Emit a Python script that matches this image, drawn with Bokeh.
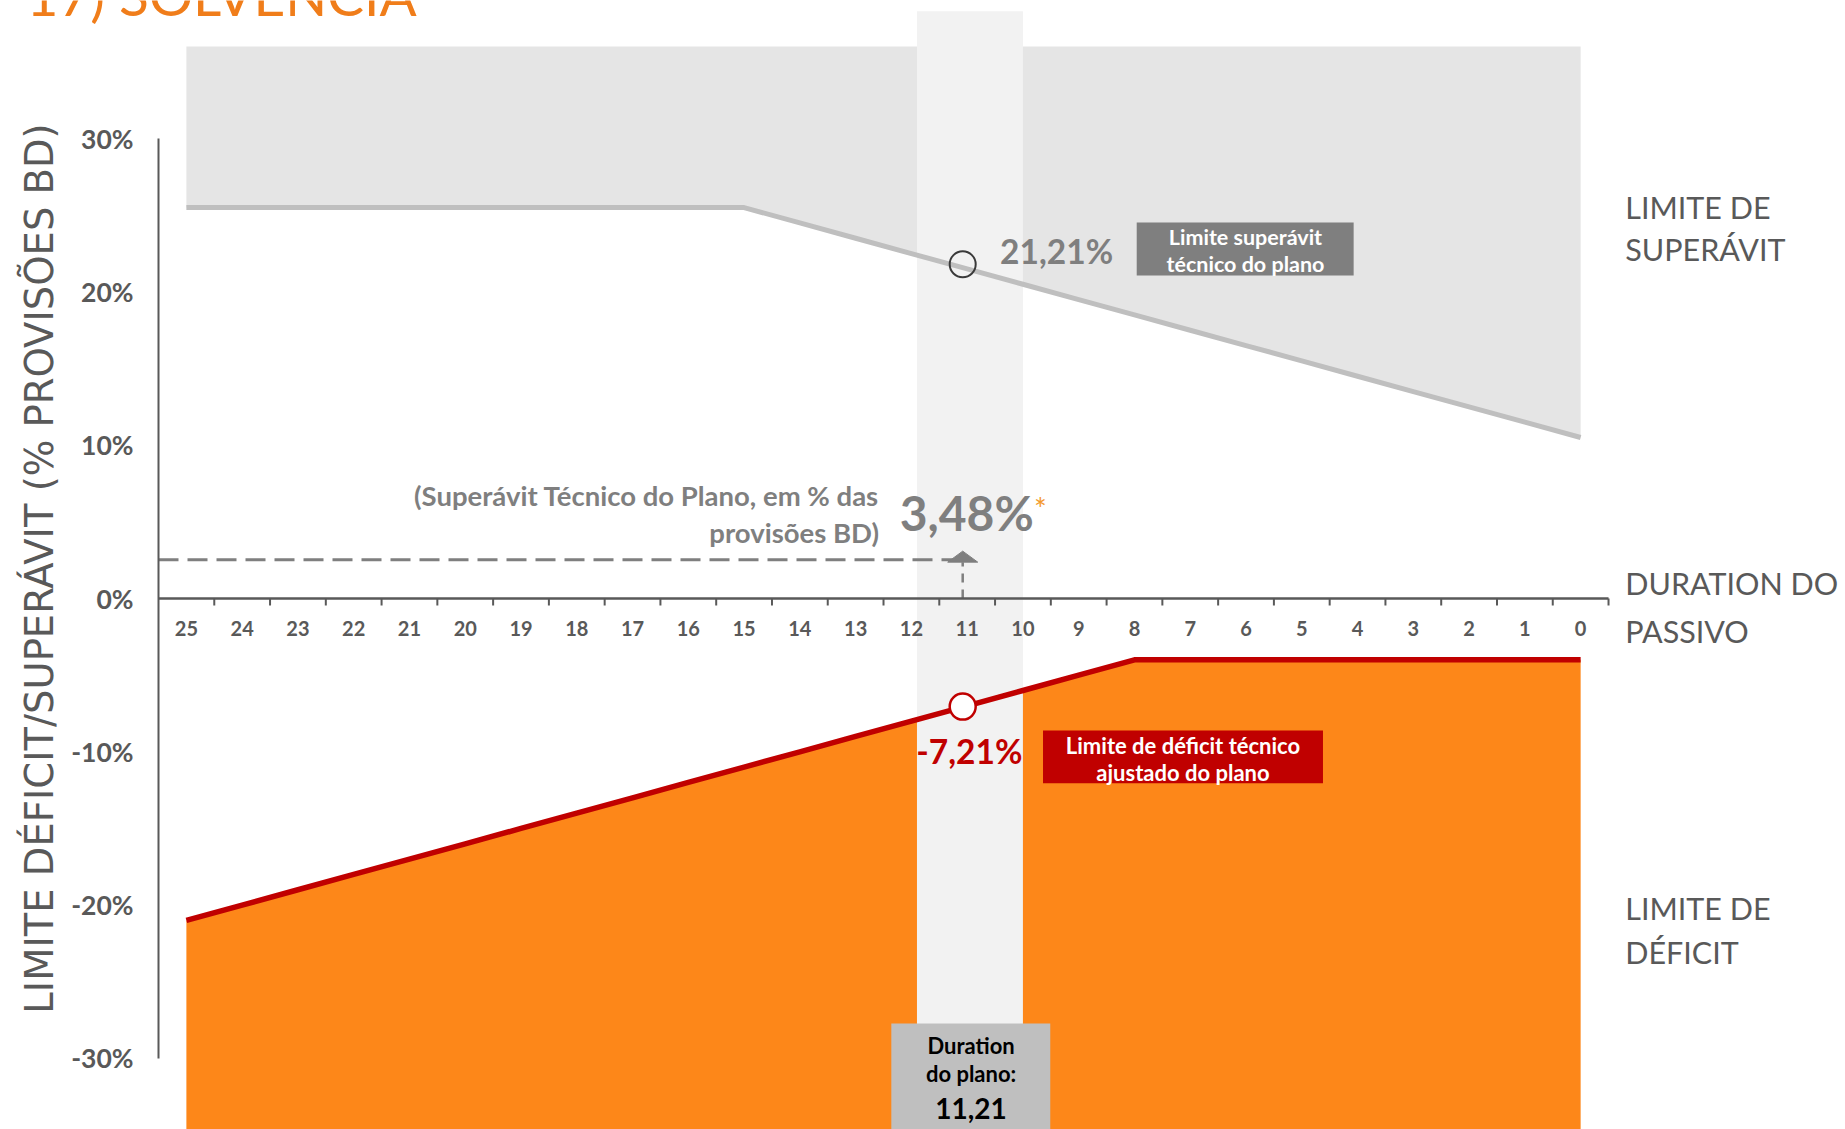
import math
from bokeh.plotting import figure
from bokeh.models import Range1d
from bokeh.core.properties import value
from bokeh.embed import file_html
from bokeh.resources import INLINE

# ---------------- data ----------------
duration = [25, 24, 23, 22, 21, 20, 19, 18, 17, 16, 15, 14, 13,
            12, 11, 10, 9, 8, 7, 6, 5, 4, 3, 2, 1, 0]
tick_labels = ["25", "24", "23", "22", "21", "20", "19", "18", "17", "16", "15", "14", "13",
               "12", "11", "10", "9", "8", "7", "6", "5", "4", "3", "2", "1", "0"]
limite_superavit = [25.5, 25.5, 25.5, 25.5, 25.5, 25.5, 25.5, 25.5, 25.5, 25.5, 25.5,
                    24.5, 23.5, 22.5, 21.5, 20.5, 19.5, 18.5, 17.5, 16.5, 15.5,
                    14.5, 13.5, 12.5, 11.5, 10.5]
limite_deficit = [-21, -20, -19, -18, -17, -16, -15, -14, -13, -12, -11, -10, -9,
                  -8, -7, -6, -5, -4, -4, -4, -4, -4, -4, -4, -4, -4]
y_ticks = [-30, -20, -10, 0, 10, 20, 30]
y_tick_labels = ["-30%", "-20%", "-10%", "0%", "10%", "20%", "30%"]

duration_plano = 11.08          # position of the plan's duration on the axis
superavit_plano_lim = 21.8      # marker on the surplus limit
deficit_plano_lim = -7.05       # marker on the deficit limit
superavit_tecnico = 2.52        # dashed level of the plan's technical surplus
superavit_tecnico_tip = 3.09
area_top = 36.0
band_left, band_right, band_top = 11.9, 10.0, 38.3

# ---------------- colours / fonts ----------------
GRAY_AREA = "#E5E5E5"
GRAY_LINE = "#BFBFBF"
BAND = "#F2F2F2"
ORANGE = "#FD8719"
RED = "#C00000"
DARK = "#595959"
MID = "#7F7F7F"
FONT = "Lato"

# ---------------- figure geometry ----------------
W, H = 1845, 1129
AXIS_PX = 158          # pixel position of the vertical axis
ZERO_PX = 598          # pixel position of the 0% line
PX_X = 55.77           # pixels per duration unit
PX_Y = 15.33           # pixels per percent
x0_axis = max(duration) + 0.5
x_start = x0_axis + AXIS_PX / PX_X
x_end = x0_axis - (W - AXIS_PX) / PX_X
y_top = ZERO_PX / PX_Y
y_bot = -(H - ZERO_PX) / PX_Y

p = figure(width=W, height=H, output_backend="svg", toolbar_location=None,
           x_range=Range1d(x_start, x_end), y_range=Range1d(y_bot, y_top),
           x_axis_type=None, y_axis_type=None,
           min_border_left=0, min_border_right=0, min_border_top=0, min_border_bottom=0)
p.outline_line_color = None
p.grid.visible = False
p.background_fill_color = "white"
p.border_fill_color = "white"

# areas
p.varea(x=duration, y1=limite_superavit, y2=[area_top] * len(duration), fill_color=GRAY_AREA)
p.varea(x=duration, y1=[y_bot - 5] * len(duration), y2=limite_deficit, fill_color=ORANGE)

# highlighted duration band
p.quad(left=[band_left], right=[band_right], top=[band_top], bottom=[y_bot - 5],
       fill_color=BAND, line_color=None)

# limit lines
p.line(x=duration, y=limite_superavit, line_color=GRAY_LINE, line_width=5)
p.line(x=duration, y=limite_deficit, line_color=RED, line_width=5.5)

# dashed surplus level + arrow (dashed stem and flat arrow head)
head_half_w = 15 / PX_X
head_h = 11 / PX_Y
p.segment(x0=[x0_axis], y0=[superavit_tecnico], x1=[duration_plano], y1=[superavit_tecnico],
          line_color=MID, line_width=3, line_dash="20 9")
p.segment(x0=[duration_plano], y0=[0], x1=[duration_plano], y1=[superavit_tecnico_tip - head_h],
          line_color=MID, line_width=2.5, line_dash="9 7")
p.patch(x=[duration_plano - head_half_w, duration_plano, duration_plano + head_half_w],
        y=[superavit_tecnico_tip - head_h, superavit_tecnico_tip, superavit_tecnico_tip - head_h],
        fill_color=MID, line_color=MID, line_width=1)

# y axis (line, labels, title)
p.segment(x0=[x0_axis], y0=[min(y_ticks)], x1=[x0_axis], y1=[max(y_ticks)],
          line_color=DARK, line_width=2)
p.text(x=[x0_axis + 25 / PX_X] * len(y_ticks), y=y_ticks, text=y_tick_labels,
       text_font=value(FONT), text_font_style="bold", text_font_size="26.5px",
       text_color=DARK, text_align="right", text_baseline="middle")
p.text(x=[x0_axis + (AXIS_PX - 39) / PX_X], y=[(ZERO_PX - 568) / PX_Y],
       text=["LIMITE DÉFICIT/SUPERÁVIT (% PROVISÕES BD)"], angle=[math.pi / 2],
       text_font=value("DejaVu Sans"), text_font_size="38.5px", text_color=DARK,
       text_align="center", text_baseline="middle")

# x axis (category style: ticks between labels)
p.segment(x0=[x0_axis], y0=[0], x1=[min(duration) - 0.5], y1=[0],
          line_color=DARK, line_width=2.5)
tick_len = 7 / PX_Y
bounds_x = [d - 0.5 for d in duration]
p.segment(x0=bounds_x, y0=[0] * len(bounds_x), x1=bounds_x, y1=[-tick_len] * len(bounds_x),
          line_color=DARK, line_width=2)
p.text(x=duration, y=[-30 / PX_Y] * len(duration), text=tick_labels,
       text_font=value(FONT), text_font_style="bold", text_font_size="20px",
       text_color=DARK, text_align="center", text_baseline="middle")

# markers
p.scatter(x=[duration_plano], y=[superavit_plano_lim], size=26, marker="circle",
          fill_color=None, line_color="#3A3A3A", line_width=2)
p.scatter(x=[duration_plano], y=[deficit_plano_lim], size=26, marker="circle",
          fill_color="white", line_color=RED, line_width=2.5)

# surplus annotation texts
p.text(x=[12.58, 12.58], y=[6.72, 4.32],
       text=["(Superávit Técnico do Plano, em % das", "provisões BD)"],
       text_font=value(FONT), text_font_style="bold", text_font_size="27.5px",
       text_color=MID, text_align="right", text_baseline="middle")
p.text(x=[12.21], y=[5.63], text=["3,48%"], text_font=value(FONT), text_font_style="bold",
       text_font_size="48px", text_color=MID, text_align="left", text_baseline="middle")
p.text(x=[9.8], y=[5.9], text=["*"], text_font=value(FONT), text_font_style="normal",
       text_font_size="30px", text_color="#F39A2E", text_align="left", text_baseline="middle")

p.text(x=[10.41], y=[22.7], text=["21,21%"], text_font=value(FONT), text_font_style="bold",
       text_font_size="33.5px", text_color=MID, text_align="left", text_baseline="middle")
p.quad(left=[7.96], right=[4.07], top=[24.53], bottom=[21.07], fill_color=MID, line_color=None)
p.text(x=[6.01, 6.01], y=[23.6, 21.8], text=["Limite superávit", "técnico do plano"],
       text_font=value(FONT), text_font_style="bold", text_font_size="21.5px",
       text_color="white", text_align="center", text_baseline="middle")

# deficit annotation texts
p.text(x=[10.96], y=[-9.92], text=["-7,21%"], text_font=value(FONT), text_font_style="bold",
       text_font_size="33.5px", text_color=RED, text_align="center", text_baseline="middle")
p.quad(left=[9.64], right=[4.62], top=[-8.61], bottom=[-12.05], fill_color=RED, line_color=None)
p.text(x=[7.13, 7.13], y=[-9.6, -11.35],
       text=["Limite de déficit técnico", "ajustado do plano"],
       text_font=value(FONT), text_font_style="bold", text_font_size="22px",
       text_color="white", text_align="center", text_baseline="middle")

# duration box
p.quad(left=[12.36], right=[9.51], top=[-27.72], bottom=[y_bot - 5],
       fill_color="#BFBFBF", line_color=None)
p.text(x=[10.93, 10.93], y=[-29.16, -30.99], text=["Duration", "do plano:"],
       text_font=value(FONT), text_font_style="bold", text_font_size="22px",
       text_color="black", text_align="center", text_baseline="middle")
p.text(x=[10.93], y=[-33.27], text=["11,21"], text_font=value(FONT), text_font_style="bold",
       text_font_size="28px", text_color="black", text_align="center", text_baseline="middle")

# right-hand labels
p.text(x=[-0.8] * 6, y=[25.53, 22.81, 0.98, -2.09, -20.22, -23.07],
       text=["LIMITE DE", "SUPERÁVIT", "DURATION DO", "PASSIVO", "LIMITE DE", "DÉFICIT"],
       text_font=value(FONT), text_font_style="normal", text_font_size="30.5px",
       text_color=DARK, text_align="left", text_baseline="middle")

# title (cut by the top edge, as in the slide)
p.text(x=[x0_axis + (AXIS_PX - 26) / PX_X], y=[(ZERO_PX + 6) / PX_Y], text=["17) SOLVÊNCIA"],
       text_font=value(FONT), text_font_size="55px", text_color="#F07D1A",
       text_align="left", text_baseline="alphabetic")

open("out.html", "w").write(file_html(p, INLINE))
